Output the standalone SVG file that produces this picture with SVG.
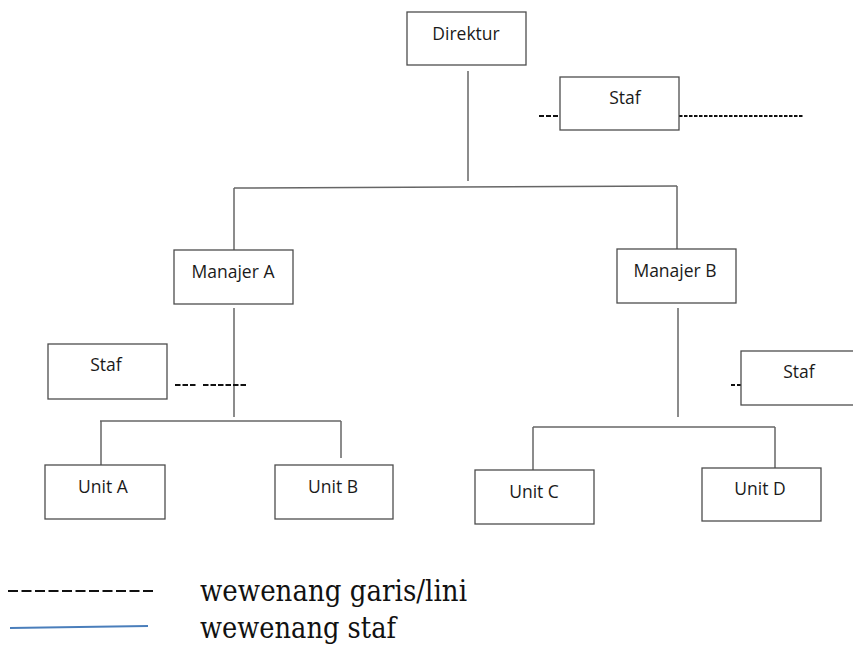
<svg xmlns="http://www.w3.org/2000/svg" width="853" height="647" viewBox="0 0 853 647">
  <style>
    .box { fill: #ffffff; stroke: #4d4d4d; stroke-width: 1.3; }
    .lbl { font-family: "Open Sans", "Liberation Sans", sans-serif; font-size: 17.5px; fill: #1a1a1a; text-anchor: middle; }
    .ln { stroke: #666666; stroke-width: 1.5; fill: none; }
    .dash { stroke: #111111; stroke-width: 2; fill: none; }
    .legend { font-family: "DejaVu Serif", "Liberation Serif", serif; font-size: 30px; fill: #111111; }
  </style>
  <rect width="853" height="647" fill="#ffffff"/>

  <!-- connectors: line of command and staff links -->
  <g id="connectors">
    <line class="ln" x1="468" y1="71" x2="468" y2="181"/>
    <line class="ln" x1="234" y1="188" x2="677" y2="186"/>
    <line class="ln" x1="234" y1="188" x2="234" y2="250"/>
    <line class="ln" x1="677" y1="186" x2="677" y2="249"/>

    <line class="ln" x1="234" y1="308" x2="234" y2="417"/>
    <line class="ln" x1="100" y1="421" x2="341" y2="421"/>
    <line class="ln" x1="101" y1="421" x2="101" y2="465"/>
    <line class="ln" x1="341" y1="421" x2="341" y2="458"/>

    <line class="ln" x1="678" y1="308" x2="678" y2="417"/>
    <line class="ln" x1="533" y1="427" x2="775" y2="427"/>
    <line class="ln" x1="533" y1="427" x2="533" y2="470"/>
    <line class="ln" x1="775" y1="427" x2="775" y2="468"/>

    <!-- staff links (dashed) -->
    <line class="dash" x1="539" y1="116" x2="560" y2="116" stroke-dasharray="5 2"/>
    <line class="dash" x1="679" y1="116" x2="803" y2="116" stroke-dasharray="3.5 1.5"/>
    <line class="dash" x1="175" y1="385" x2="197" y2="385" stroke-dasharray="5.5 2"/>
    <line class="dash" x1="203" y1="385" x2="247" y2="385" stroke-dasharray="5.5 2"/>
    <line class="dash" x1="731" y1="385" x2="741" y2="385" stroke-dasharray="4 2"/>
  </g>

  <g id="direktur">
    <rect class="box" x="407" y="12" width="119" height="53"/>
    <text class="lbl" x="466" y="40">Direktur</text>
  </g>
  <g id="staf-top">
    <rect class="box" x="560" y="77" width="119" height="53"/>
    <text class="lbl" x="625" y="104">Staf</text>
  </g>
  <g id="manajer-a">
    <rect class="box" x="174" y="250" width="119" height="54"/>
    <text class="lbl" x="233" y="278">Manajer A</text>
  </g>
  <g id="manajer-b">
    <rect class="box" x="617" y="249" width="119" height="54"/>
    <text class="lbl" x="675" y="277">Manajer B</text>
  </g>
  <g id="staf-left">
    <rect class="box" x="48" y="344" width="119" height="55"/>
    <text class="lbl" x="106" y="371">Staf</text>
  </g>
  <g id="staf-right">
    <rect class="box" x="741" y="351" width="119" height="54"/>
    <text class="lbl" x="799" y="378">Staf</text>
  </g>
  <g id="unit-a">
    <rect class="box" x="45" y="465" width="120" height="54"/>
    <text class="lbl" x="103" y="493">Unit A</text>
  </g>
  <g id="unit-b">
    <rect class="box" x="275" y="465" width="118" height="54"/>
    <text class="lbl" x="333" y="493">Unit B</text>
  </g>
  <g id="unit-c">
    <rect class="box" x="475" y="470" width="119" height="54"/>
    <text class="lbl" x="534" y="498">Unit C</text>
  </g>
  <g id="unit-d">
    <rect class="box" x="702" y="468" width="119" height="53"/>
    <text class="lbl" x="760" y="495">Unit D</text>
  </g>

  <!-- legend -->
  <g id="legend">
    <line x1="8" y1="591" x2="156" y2="591" stroke="#111111" stroke-width="2" stroke-dasharray="10 3.5"/>
    <line x1="10" y1="628" x2="148" y2="626" stroke="#4a7ebb" stroke-width="2"/>
    <text class="legend" x="200" y="601" textLength="267" lengthAdjust="spacingAndGlyphs">wewenang garis/lini</text>
    <text class="legend" x="200" y="638" textLength="196" lengthAdjust="spacingAndGlyphs">wewenang staf</text>
  </g>
</svg>
